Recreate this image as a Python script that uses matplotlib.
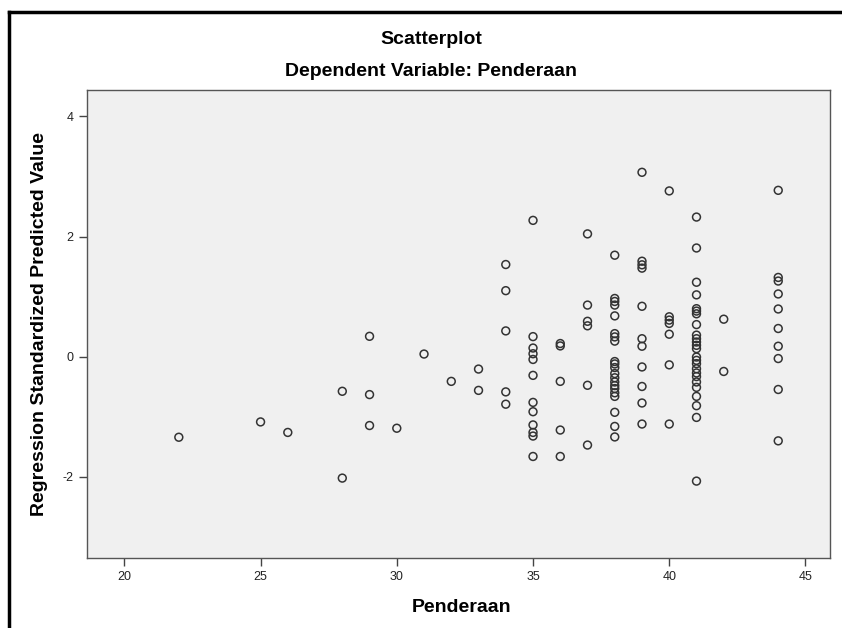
import matplotlib
matplotlib.use("Agg")
import matplotlib.pyplot as plt
from matplotlib.lines import Line2D

plt.rcParams['font.family'] = ['Liberation Sans', 'DejaVu Sans']
plt.rcParams['axes.unicode_minus'] = False

# Data (x = Penderaan, y = standardized predicted value)
penderaan = [22, 25, 26, 28, 28, 29, 29, 29, 30, 31, 32, 33, 33,
             34, 34, 34, 34, 34,
             35, 35, 35, 35, 35, 35, 35, 35, 35, 35, 35, 35,
             36, 36, 36, 36, 36,
             37, 37, 37, 37, 37, 37,
             38, 38, 38, 38, 38, 38, 38, 38, 38, 38, 38, 38, 38, 38, 38, 38, 38, 38, 38, 38, 38,
             39, 39, 39, 39, 39, 39, 39, 39, 39, 39, 39,
             40, 40, 40, 40, 40, 40, 40,
             41, 41, 41, 41, 41, 41, 41, 41, 41, 41, 41, 41, 41, 41, 41, 41, 41, 41, 41, 41, 41, 41, 41, 41, 41,
             42, 42,
             44, 44, 44, 44, 44, 44, 44, 44, 44, 44]
predicted = [-1.34, -1.085, -1.26, -0.575, -2.02, 0.34, -0.63, -1.145, -1.19, 0.045, -0.41, -0.205, -0.56,
             1.535, 1.10, 0.43, -0.585, -0.79,
             2.27, 0.335, 0.145, 0.05, -0.045, -0.31, -0.76, -0.915, -1.135, -1.26, -1.32, -1.66,
             0.22, 0.18, -0.41, -1.22, -1.66,
             2.045, 0.86, 0.59, 0.515, -0.475, -1.47,
             1.69, 0.97, 0.92, 0.86, 0.68, 0.385, 0.33, 0.26, -0.08, -0.12, -0.18, -0.28, -0.35, -0.42, -0.48, -0.53, -0.60, -0.66, -0.925, -1.16, -1.335,
             3.07, 1.59, 1.53, 1.475, 0.84, 0.30, 0.175, -0.17, -0.495, -0.77, -1.12,
             2.76, 0.665, 0.61, 0.555, 0.375, -0.135, -1.12,
             2.325, 1.81, 1.24, 1.03, 0.80, 0.76, 0.715, 0.535, 0.36, 0.30, 0.245, 0.19, 0.135, -0.005, -0.06, -0.115, -0.20, -0.27, -0.33, -0.42, -0.51, -0.66, -0.815, -1.01, -2.07,
             0.625, -0.245,
             2.77, 1.32, 1.26, 1.045, 0.795, 0.47, 0.175, -0.03, -0.545, -1.40]

x_ticks = [20, 25, 30, 35, 40, 45]
y_ticks = [-2, 0, 2, 4]

W, H = 842, 628
fig = plt.figure(figsize=(W / 100, H / 100), dpi=100)
fig.patch.set_facecolor('white')

left, right, top, bottom = 87, 830, 90, 558
ax = fig.add_axes([left / W, 1 - bottom / H, (right - left) / W, (bottom - top) / H])
ax.set_facecolor('#F0F0F0')

ax.scatter(penderaan, predicted, s=32, facecolors='none', edgecolors='#333333', linewidths=1.1, zorder=3)

ax.set_xlim(18.63, 45.9)
ax.set_ylim(-3.35, 4.44)
ax.set_xticks(x_ticks)
ax.set_yticks(y_ticks)
ax.tick_params(axis='both', direction='out', length=6, width=1, color='#444444',
               labelsize=9, labelcolor='#222222', top=False, right=False)
for sp in ax.spines.values():
    sp.set_color('#555555')
    sp.set_linewidth(1)

fig.text(431 / W, 1 - 40 / H, 'Scatterplot', ha='center', va='center', fontsize=14, fontweight='bold')
fig.text(431 / W, 1 - 71 / H, 'Dependent Variable: Penderaan', ha='center', va='center', fontsize=14, fontweight='bold')
fig.text(462 / W, 1 - 607 / H, 'Penderaan', ha='center', va='center', fontsize=14, fontweight='bold')
fig.text(40 / W, 1 - ((top + bottom) / 2) / H, 'Regression Standardized Predicted Value',
         ha='center', va='center', rotation=90, fontsize=14, fontweight='bold')

# outer frame (left and top edges visible)
fig.add_artist(Line2D([9 / W, 9 / W], [0, 1 - 12 / H], transform=fig.transFigure, color='black', linewidth=2.5))
fig.add_artist(Line2D([9 / W, 1], [1 - 12 / H, 1 - 12 / H], transform=fig.transFigure, color='black', linewidth=2.5))

fig.savefig('out.png', dpi=100)
